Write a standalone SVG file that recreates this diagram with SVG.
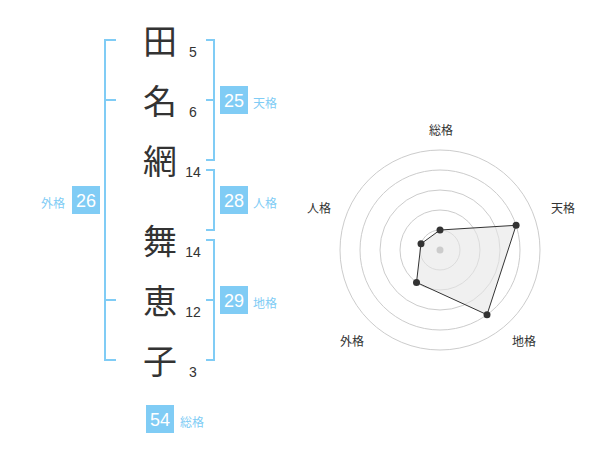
<svg xmlns="http://www.w3.org/2000/svg" width="600" height="470" viewBox="0 0 600 470">
<style>
.ch{font-family:"Noto Sans CJK JP","Noto Sans CJK SC",sans-serif;font-size:34px;fill:#333;text-anchor:middle}
.st{font-family:"Liberation Sans",Arial,sans-serif;font-size:14px;fill:#333;text-anchor:middle}
.br{fill:none;stroke:#80ccf5;stroke-width:2}
.box{fill:#80ccf5}
.bn{font-family:"Liberation Sans",Arial,sans-serif;font-size:18px;fill:#fff;text-anchor:middle}
.bl{font-family:"Noto Sans CJK JP","Noto Sans CJK SC",sans-serif;font-size:12px;fill:#80ccf5}
.rl{font-family:"Noto Sans CJK JP","Noto Sans CJK SC",sans-serif;font-size:12px;fill:#333;text-anchor:middle}
.ring{fill:none;stroke:#ccc;stroke-width:1}
.dot{fill:#333}
</style>
<rect width="600" height="470" fill="#fff"/>
<g id="name">
<text class="ch" x="160" y="54">田</text>
<text class="ch" x="160" y="114">名</text>
<text class="ch" x="160" y="174">網</text>
<text class="ch" x="160" y="254">舞</text>
<text class="ch" x="160" y="314">恵</text>
<text class="ch" x="160" y="374">子</text>
<text class="st" x="193" y="57">5</text>
<text class="st" x="193" y="117">6</text>
<text class="st" x="193" y="177">14</text>
<text class="st" x="193" y="257">14</text>
<text class="st" x="193" y="317">12</text>
<text class="st" x="193" y="377">3</text>
</g>
<g id="connectors">
<path class="br" d="M116,40 H105 V360 H116 M105,100 H116 M105,300 H116"/>
<path class="br" d="M206,40 H214 V160 H206 M206,100 H214"/>
<path class="br" d="M206,170 H214 V230 H206"/>
<path class="br" d="M206,240 H214 V360 H206 M206,300 H214"/>
</g>
<g id="tenkaku">
<rect class="box" x="220" y="86" width="28" height="28"/>
<text class="bn" x="234" y="107">25</text>
<text class="bl" x="253" y="108">天格</text>
</g>
<g id="jinkaku">
<rect class="box" x="220" y="186" width="28" height="28"/>
<text class="bn" x="234" y="207">28</text>
<text class="bl" x="253" y="208">人格</text>
</g>
<g id="chikaku">
<rect class="box" x="220" y="286" width="28" height="28"/>
<text class="bn" x="234" y="307">29</text>
<text class="bl" x="253" y="308">地格</text>
</g>
<g id="gaikaku">
<rect class="box" x="72" y="186" width="28" height="28"/>
<text class="bn" x="86" y="207">26</text>
<text class="bl" x="41" y="208">外格</text>
</g>
<g id="soukaku">
<rect class="box" x="146" y="405" width="28" height="28"/>
<text class="bn" x="160" y="426">54</text>
<text class="bl" x="180" y="427">総格</text>
</g>
<g id="radar">
<circle class="ring" cx="440" cy="250" r="100"/>
<circle class="ring" cx="440" cy="250" r="80"/>
<circle class="ring" cx="440" cy="250" r="60"/>
<circle class="ring" cx="440" cy="250" r="40"/>
<circle class="ring" cx="440" cy="250" r="20"/>
<polygon points="440,230 516.1,225.3 487,314.7 416.5,282.4 421,243.8" fill="#e6e6e6" fill-opacity="0.6" stroke="#333" stroke-width="1"/>
<circle cx="440" cy="250" r="3.5" fill="#ccc"/>
<circle class="dot" cx="440" cy="230" r="3.5"/>
<circle class="dot" cx="516.1" cy="225.3" r="3.5"/>
<circle class="dot" cx="487" cy="314.7" r="3.5"/>
<circle class="dot" cx="416.5" cy="282.4" r="3.5"/>
<circle class="dot" cx="421" cy="243.8" r="3.5"/>
<text class="rl" x="441" y="135">総格</text>
<text class="rl" x="563" y="213">天格</text>
<text class="rl" x="524" y="346">地格</text>
<text class="rl" x="352" y="346">外格</text>
<text class="rl" x="319" y="213">人格</text>
</g>
</svg>
